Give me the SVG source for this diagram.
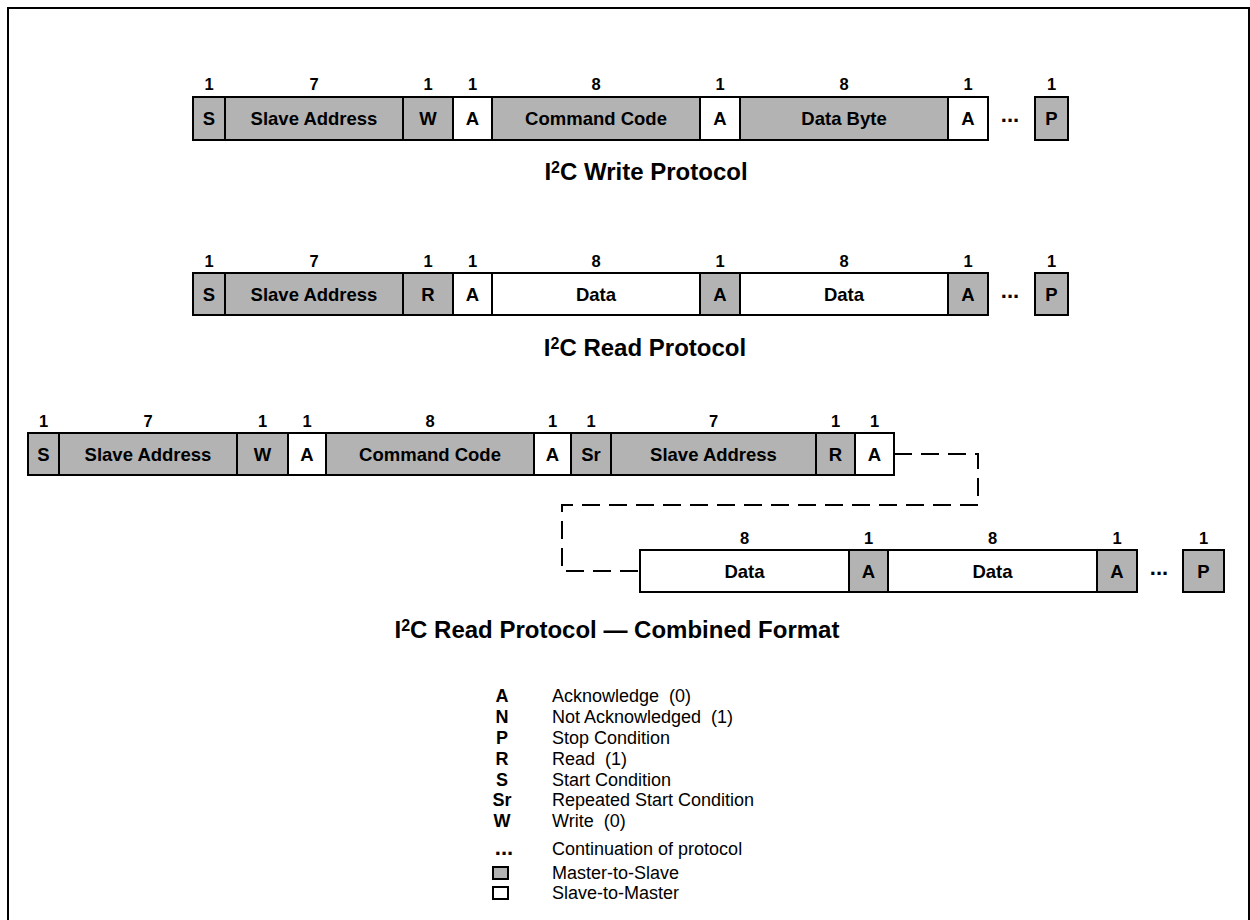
<svg xmlns="http://www.w3.org/2000/svg" width="1250" height="920" viewBox="0 0 1250 920">
<style>
.m{fill:#b3b3b3;stroke:#000;stroke-width:2}
.s{fill:#fff;stroke:#000;stroke-width:2}
.lb{font-family:"Liberation Sans",Arial,sans-serif;font-weight:bold;font-size:18.5px;text-anchor:middle;fill:#000}
.nm{font-family:"Liberation Sans",Arial,sans-serif;font-weight:bold;font-size:16.5px;text-anchor:middle;fill:#000}
.dt{font-family:"Liberation Sans",Arial,sans-serif;font-weight:bold;font-size:22px;text-anchor:middle;fill:#000}
.tt{font-family:"Liberation Sans",Arial,sans-serif;font-weight:bold;font-size:24px;text-anchor:middle;fill:#000}
.sup{font-size:16px}
.lk{font-family:"Liberation Sans",Arial,sans-serif;font-weight:bold;font-size:18px;text-anchor:middle;fill:#000}
.ld{font-family:"Liberation Sans",Arial,sans-serif;font-size:18px;fill:#000;white-space:pre}
.cn{fill:none;stroke:#000;stroke-width:2;stroke-dasharray:18 9}
</style>
<rect x="8" y="8" width="1241" height="940" fill="#fff" stroke="#000" stroke-width="2"/>

<g id="connectors">
<path class="cn" d="M894,454 H978 V505 H562 V571 H640"/>
</g>

<!-- Row 1: Write -->
<g id="write-protocol">
<rect class="m" x="193" y="97" width="32" height="43"/>
<rect class="m" x="225" y="97" width="178" height="43"/>
<rect class="m" x="403" y="97" width="50" height="43"/>
<rect class="s" x="453" y="97" width="39" height="43"/>
<rect class="m" x="492" y="97" width="208" height="43"/>
<rect class="s" x="700" y="97" width="40" height="43"/>
<rect class="m" x="740" y="97" width="208" height="43"/>
<rect class="s" x="948" y="97" width="40" height="43"/>
<rect class="m" x="1035" y="97" width="33" height="43"/>
<text class="lb" x="209" y="125">S</text>
<text class="lb" x="314" y="125">Slave Address</text>
<text class="lb" x="428" y="125">W</text>
<text class="lb" x="472.5" y="125">A</text>
<text class="lb" x="596" y="125">Command Code</text>
<text class="lb" x="720" y="125">A</text>
<text class="lb" x="844" y="125">Data Byte</text>
<text class="lb" x="968" y="125">A</text>
<text class="dt" x="1010" y="122">...</text>
<text class="lb" x="1051.5" y="125">P</text>
<text class="nm" x="209" y="90">1</text>
<text class="nm" x="314" y="90">7</text>
<text class="nm" x="428" y="90">1</text>
<text class="nm" x="472.5" y="90">1</text>
<text class="nm" x="596" y="90">8</text>
<text class="nm" x="720" y="90">1</text>
<text class="nm" x="844" y="90">8</text>
<text class="nm" x="968" y="90">1</text>
<text class="nm" x="1051.5" y="90">1</text>
<text class="tt" x="646" y="180">I<tspan class="sup" dy="-7">2</tspan><tspan dy="7">C Write Protocol</tspan></text>
</g>

<!-- Row 2: Read -->
<g id="read-protocol">
<rect class="m" x="193" y="273" width="32" height="42"/>
<rect class="m" x="225" y="273" width="178" height="42"/>
<rect class="m" x="403" y="273" width="50" height="42"/>
<rect class="s" x="453" y="273" width="39" height="42"/>
<rect class="s" x="492" y="273" width="208" height="42"/>
<rect class="m" x="700" y="273" width="40" height="42"/>
<rect class="s" x="740" y="273" width="208" height="42"/>
<rect class="m" x="948" y="273" width="40" height="42"/>
<rect class="m" x="1035" y="273" width="33" height="42"/>
<text class="lb" x="209" y="300.5">S</text>
<text class="lb" x="314" y="300.5">Slave Address</text>
<text class="lb" x="428" y="300.5">R</text>
<text class="lb" x="472.5" y="300.5">A</text>
<text class="lb" x="596" y="300.5">Data</text>
<text class="lb" x="720" y="300.5">A</text>
<text class="lb" x="844" y="300.5">Data</text>
<text class="lb" x="968" y="300.5">A</text>
<text class="dt" x="1010" y="297.5">...</text>
<text class="lb" x="1051.5" y="300.5">P</text>
<text class="nm" x="209" y="267">1</text>
<text class="nm" x="314" y="267">7</text>
<text class="nm" x="428" y="267">1</text>
<text class="nm" x="472.5" y="267">1</text>
<text class="nm" x="596" y="267">8</text>
<text class="nm" x="720" y="267">1</text>
<text class="nm" x="844" y="267">8</text>
<text class="nm" x="968" y="267">1</text>
<text class="nm" x="1051.5" y="267">1</text>
<text class="tt" x="645" y="356">I<tspan class="sup" dy="-7">2</tspan><tspan dy="7">C Read Protocol</tspan></text>
</g>

<!-- Row 3: Combined, first part -->
<g id="combined-part1">
<rect class="m" x="28" y="433" width="31" height="42"/>
<rect class="m" x="59" y="433" width="178" height="42"/>
<rect class="m" x="237" y="433" width="51" height="42"/>
<rect class="s" x="288" y="433" width="38" height="42"/>
<rect class="m" x="326" y="433" width="208" height="42"/>
<rect class="s" x="534" y="433" width="37" height="42"/>
<rect class="m" x="571" y="433" width="40" height="42"/>
<rect class="m" x="611" y="433" width="205" height="42"/>
<rect class="m" x="816" y="433" width="39" height="42"/>
<rect class="s" x="855" y="433" width="39" height="42"/>
<text class="lb" x="43.5" y="460.5">S</text>
<text class="lb" x="148" y="460.5">Slave Address</text>
<text class="lb" x="262.5" y="460.5">W</text>
<text class="lb" x="307" y="460.5">A</text>
<text class="lb" x="430" y="460.5">Command Code</text>
<text class="lb" x="552.5" y="460.5">A</text>
<text class="lb" x="591" y="460.5">Sr</text>
<text class="lb" x="713.5" y="460.5">Slave Address</text>
<text class="lb" x="835.5" y="460.5">R</text>
<text class="lb" x="874.5" y="460.5">A</text>
<text class="nm" x="43.5" y="427">1</text>
<text class="nm" x="148" y="427">7</text>
<text class="nm" x="262.5" y="427">1</text>
<text class="nm" x="307" y="427">1</text>
<text class="nm" x="430" y="427">8</text>
<text class="nm" x="552.5" y="427">1</text>
<text class="nm" x="591" y="427">1</text>
<text class="nm" x="713.5" y="427">7</text>
<text class="nm" x="835.5" y="427">1</text>
<text class="nm" x="874.5" y="427">1</text>
</g>

<!-- Row 4: Combined, second part -->
<g id="combined-part2">
<rect class="s" x="640" y="550" width="209" height="42"/>
<rect class="m" x="849" y="550" width="39" height="42"/>
<rect class="s" x="888" y="550" width="209" height="42"/>
<rect class="m" x="1097" y="550" width="40" height="42"/>
<rect class="m" x="1183" y="550" width="41" height="42"/>
<text class="lb" x="744.5" y="577.5">Data</text>
<text class="lb" x="868.5" y="577.5">A</text>
<text class="lb" x="992.5" y="577.5">Data</text>
<text class="lb" x="1117" y="577.5">A</text>
<text class="dt" x="1159" y="574.5">...</text>
<text class="lb" x="1203.5" y="577.5">P</text>
<text class="nm" x="744.5" y="544">8</text>
<text class="nm" x="868.5" y="544">1</text>
<text class="nm" x="992.5" y="544">8</text>
<text class="nm" x="1117" y="544">1</text>
<text class="nm" x="1203.5" y="544">1</text>
<text class="tt" x="617" y="638">I<tspan class="sup" dy="-7">2</tspan><tspan dy="7">C Read Protocol — Combined Format</tspan></text>
</g>

<!-- Legend -->
<g id="legend">
<text class="lk" x="502" y="702">A</text><text class="ld" x="552" y="702">Acknowledge  (0)</text>
<text class="lk" x="502" y="723">N</text><text class="ld" x="552" y="723">Not Acknowledged  (1)</text>
<text class="lk" x="502" y="744">P</text><text class="ld" x="552" y="744">Stop Condition</text>
<text class="lk" x="502" y="765">R</text><text class="ld" x="552" y="765">Read  (1)</text>
<text class="lk" x="502" y="786">S</text><text class="ld" x="552" y="786">Start Condition</text>
<text class="lk" x="502" y="806">Sr</text><text class="ld" x="552" y="806">Repeated Start Condition</text>
<text class="lk" x="502" y="827">W</text><text class="ld" x="552" y="827">Write  (0)</text>
<text class="dt" x="504" y="855">...</text><text class="ld" x="552" y="855">Continuation of protocol</text>
<rect class="m" x="493" y="867" width="15" height="12"/><text class="ld" x="552" y="879">Master-to-Slave</text>
<rect class="s" x="493" y="887" width="15" height="12"/><text class="ld" x="552" y="899">Slave-to-Master</text>
</g>
</svg>
